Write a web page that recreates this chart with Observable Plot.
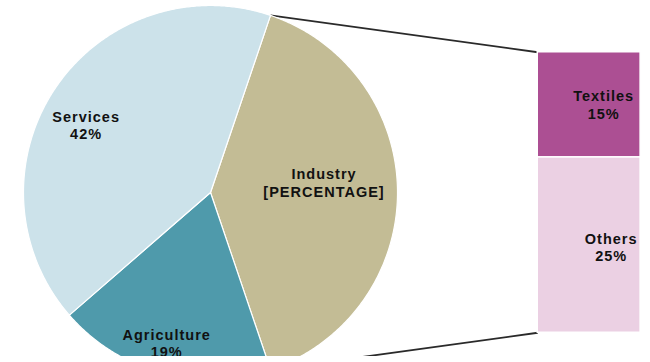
<!DOCTYPE html>
<html>
<head>
<meta charset="utf-8">
<script src="https://cdn.jsdelivr.net/npm/d3@7"></script>
<script src="https://cdn.jsdelivr.net/npm/@observablehq/plot@0.6"></script>
<style>
  html, body { margin: 0; padding: 0; background: #fff; }
  #chart { width: 650px; height: 356px; overflow: hidden; }
</style>
</head>
<body>
<div id="chart"></div>
<script>
// ---- data ----
const pieCategories = ["Industry", "Agriculture", "Services"];
const pieValues = [40, 19, 42];            // Industry = Textiles + Others
const pieLabels = ["[PERCENTAGE]", "19%", "42%"];
const barCategories = ["Textiles", "Others"];
const barValues = [15, 25];
const barLabels = ["15%", "25%"];

// ---- layout (pixels) ----
const W = 650, H = 356, CX = 210, CY = 192, R = 187;
const barX1 = 1.75, barX2 = 2.30;     // in pie-radius units
const barSpan = 1.50;                 // bar height in pie-radius units
const colors = {
  Services: "#cce2ea", Industry: "#c3bc95", Agriculture: "#4f9aab",
  Textiles: "#ac4f93", Others: "#ebd0e3"
};
const pieLabelLayout = {
  Services: {f: 0.756, dx: -7, dy: 11},
  Industry: {f: 0.607, dx: 0, dy: -10},
  Agriculture: {f: 0.835, dx: -3, dy: 0}
};
const barLabelLayout = {
  Textiles: {dx: 14.5, dy: -0.5},
  Others: {dx: 22, dy: 2}
};

// ---- pie geometry ----
const pieData = pieCategories.map((name, i) => ({name, value: pieValues[i], label: pieLabels[i]}));
const total = d3.sum(pieValues);
const a0 = Math.PI / 2 - (pieValues[0] / total) * Math.PI; // Industry centred on the right
const arcs = d3.pie().sort(null).value(d => d.value).startAngle(a0).endAngle(a0 + 2 * Math.PI)(pieData);

const slicePoints = [];
for (const a of arcs) {
  const n = Math.max(2, Math.ceil((a.endAngle - a.startAngle) / (Math.PI / 360)));
  slicePoints.push({name: a.data.name, x: 0, y: 0});
  for (let i = 0; i <= n; i++) {
    const t = a.startAngle + (a.endAngle - a.startAngle) * i / n;
    slicePoints.push({name: a.data.name, x: Math.sin(t), y: Math.cos(t)});
  }
  slicePoints.push({name: a.data.name, x: 0, y: 0});
}

// ---- bar geometry ----
const k = barSpan / d3.sum(barValues);
const barTop = barSpan / 2;
const cum = [0, ...d3.cumsum(barValues)];
const barData = barCategories.map((name, i) => ({
  name, label: barLabels[i],
  y1: barTop - cum[i] * k, y2: barTop - cum[i + 1] * k
}));

// ---- connector lines ----
const ind = arcs[0];
const links = [
  {x1: Math.sin(ind.startAngle), y1: Math.cos(ind.startAngle), x2: barX1, y2: barData[0].y1},
  {x1: Math.sin(ind.endAngle), y1: Math.cos(ind.endAngle), x2: barX1, y2: barData[barData.length - 1].y2}
];

// ---- labels ----
const labels = [];
for (const a of arcs) {
  const L = pieLabelLayout[a.data.name];
  const mid = (a.startAngle + a.endAngle) / 2;
  labels.push({
    x: L.f * Math.sin(mid) + L.dx / R,
    y: L.f * Math.cos(mid) - L.dy / R,
    text: a.data.name + "\n" + a.data.label
  });
}
for (const b of barData) {
  const L = barLabelLayout[b.name];
  labels.push({
    x: (barX1 + barX2) / 2 + L.dx / R,
    y: (b.y1 + b.y2) / 2 - L.dy / R,
    text: b.name + "\n" + b.label
  });
}

const allNames = [...pieCategories, ...barCategories];

const chart = Plot.plot({
  width: W, height: H,
  marginTop: 0, marginRight: 0, marginBottom: 0, marginLeft: 0,
  style: {background: "#fff", letterSpacing: "1px"},
  x: {domain: [-CX / R, (W - CX) / R], axis: null},
  y: {domain: [-(H - CY) / R, CY / R], axis: null},
  color: {domain: allNames, range: allNames.map(n => colors[n])},
  marks: [
    Plot.link(links, {x1: "x1", y1: "y1", x2: "x2", y2: "y2", stroke: "#2a2a2a", strokeWidth: 1.8}),
    Plot.line(slicePoints, {x: "x", y: "y", z: "name", fill: "name", stroke: "#ffffff", strokeWidth: 1.2, strokeLinejoin: "round", clip: true}),
    Plot.rect(barData, {x1: () => barX1, x2: () => barX2, y1: "y1", y2: "y2", fill: "name", stroke: "#ffffff", strokeWidth: 1.5}),
    Plot.text(labels, {
      x: "x", y: "y", text: "text",
      fontSize: 14.5, fontWeight: "bold",
      fontFamily: "'Liberation Sans', Arial, sans-serif",
      lineHeight: 1.2, fill: "#111111", textAnchor: "middle"
    })
  ]
});
document.getElementById("chart").appendChild(chart);
</script>
</body>
</html>
